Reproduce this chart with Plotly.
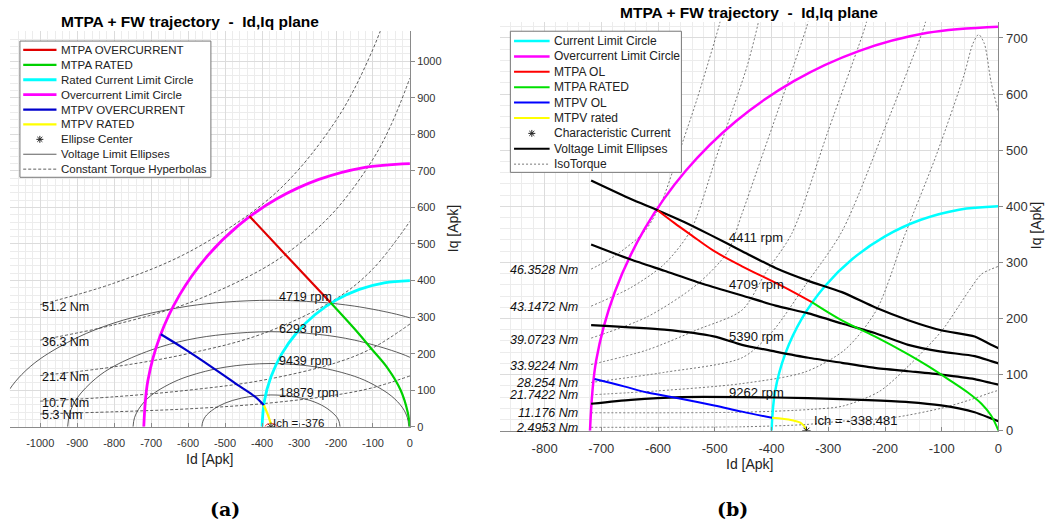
import plotly.graph_objects as go

# ====================== DATA ======================
# Current-limit circles (shared by both panels)
OC_CIRCLE_ID = [-720, -709.1, -676.6, -623.5, -551.6, -462.8, -360.0, -246.3, -125.0, 0]
OC_CIRCLE_IQ = [0, 125.0, 246.3, 360.0, 462.8, 551.6, 623.5, 676.6, 709.1, 720]
RATED_CIRCLE_ID = [-400, -393.9, -375.9, -346.4, -306.4, -257.1, -200, -136.8, -69.5, 0]
RATED_CIRCLE_IQ = [0, 69.5, 136.8, 200, 257.1, 306.4, 346.4, 375.9, 393.9, 400]

# ---------- panel (a) ----------
A_MTPA_RATED_ID = [0, -6, -25, -60, -103, -150, -215]
A_MTPA_RATED_IQ = [0, 40, 100, 160, 212, 268, 340]
A_MTPA_OC_ID = [-215, -325, -434]
A_MTPA_OC_IQ = [340, 458, 576]
A_MTPV_OC_ID = [-674, -610, -534, -462, -420, -395]
A_MTPV_OC_IQ = [253, 213, 162, 112, 83, 59]
A_MTPV_RATED_ID = [-395, -384, -376]
A_MTPV_RATED_IQ = [59, 32, 8]
A_CENTER_ID = [-376]
A_CENTER_IQ = [0]
A_SMALL_ID = [-392, -388, -376, -364, -360]
A_SMALL_IQ = [0, 6, 9, 6, 0]

A_ELL_4719_ID = [-1116, -1110, -1100, -1082, -1050, -1000, -900, -800, -700, -600, -500, -376, -250, -150, -50, 0, 50]
A_ELL_4719_IQ = [0, 44, 72, 104, 143, 186, 244, 284, 311, 330, 341, 346, 341, 330, 311, 298, 283]
A_ELL_6293_ID = [-926, -920, -900, -850, -800, -700, -600, -500, -376, -250, -150, -50, 0, 50]
A_ELL_6293_IQ = [0, 38, 79, 132, 166, 210, 238, 253, 260, 253, 237, 209, 190, 164]
A_ELL_9439_ID = [-749, -745, -730, -700, -650, -600, -500, -376, -250, -150, -100, -50, -20, -7, -3]
A_ELL_9439_IQ = [0, 25, 54, 86, 117, 138, 163, 173, 163, 138, 116, 84, 52, 25, 0]
A_ELL_18879_ID = [-563, -560, -550, -520, -480, -430, -376, -320, -270, -230, -200, -192, -189]
A_ELL_18879_IQ = [0, 15, 32, 55, 72, 83, 87, 83, 72, 54, 29, 15, 0]
A_SPEED_LABELS = ["4719 rpm", "6293 rpm", "9439 rpm", "18879 rpm"]
A_SPEED_LABEL_IQ = [354, 267, 181, 92]

A_HYP_51_ID = [-1000, -800, -600, -400, -300, -200, -150, -100, -80, -70]
A_HYP_51_IQ = [334, 393, 477, 608, 705, 838, 925, 1033, 1083, 1110]
A_HYP_36_ID = [-1000, -800, -600, -400, -300, -200, -100, -50, 0]
A_HYP_36_IQ = [237, 279, 338, 431, 500, 594, 732, 828, 954]
A_HYP_21_ID = [-1000, -800, -600, -400, -200, -100, 0]
A_HYP_21_IQ = [140, 164, 200, 254, 350, 432, 562]
A_HYP_10_ID = [-1000, -800, -600, -400, -200, -100, 0]
A_HYP_10_IQ = [70, 82, 100, 127, 175, 216, 281]
A_HYP_5_ID = [-1000, -800, -600, -400, -200, -100, 0]
A_HYP_5_IQ = [35, 41, 49, 63, 87, 107, 139]
A_TORQUE_LABELS = ["51.2 Nm", "36.3 Nm", "21.4 Nm", "10.7 Nm", "5.3 Nm"]
A_TORQUE_LABEL_IQ = [328, 232, 135, 65, 31]
A_ICH_LABEL = "Ich = -376"

A_XTICKS = [-1000, -900, -800, -700, -600, -500, -400, -300, -200, -100, 0]
A_XTICKTEXT = ["-1000", "-900", "-800", "-700", "-600", "-500", "-400", "-300", "-200", "-100", "0"]
A_YTICKS = [0, 100, 200, 300, 400, 500, 600, 700, 800, 900, 1000]

A_LEGEND = ["MTPA OVERCURRENT", "MTPA RATED", "Rated Current Limit Circle", "Overcurrent Limit Circle",
            "MTPV OVERCURRENT", "MTPV RATED", "Ellipse Center", "Voltage Limit Ellipses",
            "Constant Torque Hyperbolas"]

# ---------- panel (b) ----------
B_MTPA_OL_ID = [-601, -571, -542, -501, -452, -382, -329]
B_MTPA_OL_IQ = [393, 370, 349, 320, 293, 258, 229]
B_MTPA_RATED_ID = [-329, -277, -218, -159, -124, -89, -54, -30, -13, 0]
B_MTPA_RATED_IQ = [229, 197, 168, 136, 115, 92, 68, 48, 27, 0]
B_MTPV_OL_ID = [-712, -660, -619, -560, -501, -452, -399]
B_MTPV_OL_IQ = [92, 79, 68, 57, 45, 34, 23]
B_MTPV_RATED_ID = [-399, -364, -347, -338]
B_MTPV_RATED_IQ = [23, 18.6, 12.8, 1]
B_ICH_ID = [-338.481]
B_ICH_IQ = [0]
B_ICH_LABEL = "Ich = -338.481"

B_ELL_4411_ID = [-718, -648, -601, -554, -508, -452, -393, -335, -276, -218, -159, -101, -42, -13, 0]
B_ELL_4411_IQ = [446, 413, 393, 372, 349, 320, 290, 267, 247, 220, 197, 179, 168, 153, 147]
B_ELL_4709_ID = [-718, -648, -589, -519, -452, -393, -335, -276, -218, -159, -101, -42, -13, 0]
B_ELL_4709_IQ = [332, 305, 285, 261, 241, 223, 209, 191, 174, 153, 141, 133, 124, 120]
B_ELL_5390_ID = [-718, -589, -502, -452, -393, -335, -276, -218, -159, -101, -42, -13, 0]
B_ELL_5390_IQ = [188, 180, 168, 153, 141, 130, 121, 112, 106, 100, 92, 85, 82]
B_ELL_9262_ID = [-718, -648, -560, -452, -335, -218, -159, -101, -42, -13, 0]
B_ELL_9262_IQ = [48, 55, 60, 60, 58, 54, 51, 45, 33, 22, 17]
B_SPEED_LABELS = ["4411 rpm", "4709 rpm", "5390 rpm", "9262 rpm"]
B_SPEED_LABEL_IQ = [345, 260, 168, 68]

B_T46_ID = [-718, -677, -624, -595, -566, -531, -493, -488]
B_T46_IQ = [288, 311, 355, 405, 487, 592, 720, 740]
B_T43_ID = [-718, -648, -589, -542, -500, -470, -443, -425, -421]
B_T43_IQ = [222, 255, 297, 358, 480, 568, 650, 720, 740]
B_T39_ID = [-718, -619, -531, -478, -452, -420, -382, -338, -333]
B_T39_IQ = [165, 203, 261, 318, 387, 480, 590, 720, 740]
B_T33_ID = [-718, -619, -531, -452, -410, -364, -300, -235, -230]
B_T33_IQ = [118, 144, 180, 215, 282, 352, 535, 720, 740]
B_T28_ID = [-718, -589, -452, -400, -340, -276, -200, -131, -126]
B_T28_IQ = [86, 104, 130, 175, 260, 355, 540, 720, 740]
B_T21_ID = [-718, -600, -452, -340, -270, -215, -165, -110, -61, -45, -35, -25, -13, 0]
B_T21_IQ = [64, 71, 84, 105, 145, 215, 349, 490, 633, 690, 706, 690, 621, 568]
B_T11_ID = [-718, -450, -330, -274, -210, -159, -100, -55, -30, -15, 0]
B_T11_IQ = [32, 33, 38, 44, 70, 115, 178, 245, 279, 287, 293]
B_T2_ID = [-718, -450, -340, -276, -188, -101, -50, -13, 0]
B_T2_IQ = [6, 7, 11, 17, 23, 40, 55, 68, 72]
B_TORQUE_LABELS = ["46.3528 Nm", "43.1472 Nm", "39.0723 Nm", "33.9224 Nm",
                   "28.254 Nm", "21.7422 Nm", "11.176 Nm", "2.4953 Nm"]
B_TORQUE_LABEL_IQ = [286, 220, 162, 115, 85, 63, 32, 5]

B_XTICKS = [-800, -700, -600, -500, -400, -300, -200, -100, 0]
B_XTICKTEXT = ["-800", "-700", "-600", "-500", "-400", "-300", "-200", "-100", "0"]
B_YTICKS = [0, 100, 200, 300, 400, 500, 600, 700]

B_LEGEND = ["Current Limit Circle", "Overcurrent Limit Circle", "MTPA OL", "MTPA RATED", "MTPV OL",
            "MTPV rated", "Characteristic Current", "Voltage Limit Ellipses", "IsoTorque"]

TITLE = "MTPA + FW trajectory  -  Id,Iq plane"

# ====================== FIGURE ======================
W, H = 1049, 530
FONT = "Liberation Sans, Arial, Helvetica, sans-serif"
RED, GREEN, CYAN, MAG, BLUE, YEL = "#FF0000", "#00E000", "#00FFFF", "#FF00FF", "#0000FF", "#FFFF00"
A_RED, A_GREEN, A_BLUE = "#E00000", "#00D000", "#0000CC"
THIN = "#333333"
ISO = "#555555"
DASH_A = "3px,2px"
DOT_B = "2px,2px"

fig = go.Figure()


def line(x, y, panel, name, color, width, dash="solid", smooth=1.0):
    xa, ya = ("x", "y") if panel == "a" else ("x2", "y2")
    fig.add_trace(go.Scatter(
        x=x, y=y, mode="lines", name=name, xaxis=xa, yaxis=ya, showlegend=False,
        line=dict(color=color, width=width, dash=dash, shape="spline", smoothing=smooth),
        hoverinfo="skip"))


def star(x, y, panel, name):
    xa, ya = ("x", "y") if panel == "a" else ("x2", "y2")
    fig.add_trace(go.Scatter(
        x=x, y=y, mode="markers", name=name, xaxis=xa, yaxis=ya, showlegend=False,
        marker=dict(symbol="asterisk-open", size=7, color="#222", line=dict(color="#222", width=1)),
        hoverinfo="skip"))


# ---- panel (a) ----
for hx, hy in [(A_HYP_51_ID, A_HYP_51_IQ), (A_HYP_36_ID, A_HYP_36_IQ), (A_HYP_21_ID, A_HYP_21_IQ),
               (A_HYP_10_ID, A_HYP_10_IQ), (A_HYP_5_ID, A_HYP_5_IQ)]:
    line(hx, hy, "a", "Constant Torque Hyperbolas", THIN, 0.8, DASH_A)
for ex, ey in [(A_ELL_4719_ID, A_ELL_4719_IQ), (A_ELL_6293_ID, A_ELL_6293_IQ),
               (A_ELL_9439_ID, A_ELL_9439_IQ), (A_ELL_18879_ID, A_ELL_18879_IQ)]:
    line(ex, ey, "a", "Voltage Limit Ellipses", THIN, 0.8)
line(A_SMALL_ID, A_SMALL_IQ, "a", "small ellipse", RED, 0.8)
line(RATED_CIRCLE_ID, RATED_CIRCLE_IQ, "a", "Rated Current Limit Circle", CYAN, 2.8)
line(OC_CIRCLE_ID, OC_CIRCLE_IQ, "a", "Overcurrent Limit Circle", MAG, 2.8)
line(A_MTPA_OC_ID, A_MTPA_OC_IQ, "a", "MTPA OVERCURRENT", A_RED, 2.2)
line(A_MTPA_RATED_ID, A_MTPA_RATED_IQ, "a", "MTPA RATED", A_GREEN, 2.2)
line(A_MTPV_OC_ID, A_MTPV_OC_IQ, "a", "MTPV OVERCURRENT", A_BLUE, 2.2)
line(A_MTPV_RATED_ID, A_MTPV_RATED_IQ, "a", "MTPV RATED", YEL, 2.2)
star(A_CENTER_ID, A_CENTER_IQ, "a", "Ellipse Center")

# ---- panel (b) ----
for tx, ty in [(B_T46_ID, B_T46_IQ), (B_T43_ID, B_T43_IQ), (B_T39_ID, B_T39_IQ), (B_T33_ID, B_T33_IQ),
               (B_T28_ID, B_T28_IQ), (B_T21_ID, B_T21_IQ), (B_T11_ID, B_T11_IQ), (B_T2_ID, B_T2_IQ)]:
    line(tx, ty, "b", "IsoTorque", ISO, 0.8, DOT_B, smooth=0.8)
line(RATED_CIRCLE_ID, RATED_CIRCLE_IQ, "b", "Current Limit Circle", CYAN, 2.5)
line(OC_CIRCLE_ID, OC_CIRCLE_IQ, "b", "Overcurrent Limit Circle", MAG, 2.5)
for ex, ey in [(B_ELL_4411_ID, B_ELL_4411_IQ), (B_ELL_4709_ID, B_ELL_4709_IQ),
               (B_ELL_5390_ID, B_ELL_5390_IQ), (B_ELL_9262_ID, B_ELL_9262_IQ)]:
    line(ex, ey, "b", "Voltage Limit Ellipses", "#000000", 2.2, smooth=0.6)
line(B_MTPA_OL_ID, B_MTPA_OL_IQ, "b", "MTPA OL", RED, 2.0)
line(B_MTPA_RATED_ID, B_MTPA_RATED_IQ, "b", "MTPA RATED", GREEN, 2.0)
line(B_MTPV_OL_ID, B_MTPV_OL_IQ, "b", "MTPV OL", BLUE, 2.0)
line(B_MTPV_RATED_ID, B_MTPV_RATED_IQ, "b", "MTPV rated", YEL, 2.0)
star(B_ICH_ID, B_ICH_IQ, "b", "Characteristic Current")

# ---- axes ----
AX_LINE = "#8a8a8a"
TICK_COL = "#333333"
GRID = "#dcdcdc"
MINOR = "#ececec"


def xaxis(domain, rng, vals, text, size, yref):
    return dict(domain=domain, range=rng, anchor=yref, tickmode="array", tickvals=vals, ticktext=text,
                showgrid=True, gridcolor=GRID, gridwidth=1, zeroline=False,
                minor=dict(tickmode="linear", tick0=0, dtick=20, showgrid=True, gridcolor=MINOR, gridwidth=1),
                showline=True, linecolor=AX_LINE, linewidth=1, ticks="inside", ticklen=4,
                ticklabelstandoff=6,
                tickcolor=AX_LINE, tickfont=dict(family=FONT, size=size, color=TICK_COL), fixedrange=True)


def yaxis(domain, rng, vals, size, xref):
    return dict(domain=domain, range=rng, anchor=xref, side="right", tickmode="array", tickvals=vals,
                showgrid=True, gridcolor=GRID, gridwidth=1, zeroline=False,
                minor=dict(tickmode="linear", tick0=0, dtick=20, showgrid=True, gridcolor=MINOR, gridwidth=1),
                showline=True, linecolor=AX_LINE, linewidth=1, ticks="outside", ticklen=4,
                tickcolor=AX_LINE, tickfont=dict(family=FONT, size=size, color=TICK_COL), fixedrange=True)


AX1 = (10, 411.5, 31.7, 433.3)   # left, right, top, bottom (px)
AX2 = (501.7, 1002.3, 22.0, 437.3)


def dom_x(a):
    return [a[0] / W, a[1] / W]


def dom_y(a):
    return [1 - a[3] / H, 1 - a[2] / H]


def px(x):
    return x / W


def py(y):
    return 1 - y / H


fig.update_layout(
    width=W, height=H, margin=dict(l=0, r=0, t=0, b=0),
    paper_bgcolor="white", plot_bgcolor="white",
    font=dict(family=FONT, color="#222"),
    showlegend=False,
    xaxis=xaxis(dom_x(AX1), [-1082, 0], A_XTICKS, A_XTICKTEXT, 11, "y"),
    yaxis=yaxis(dom_y(AX1), [0, 1082], A_YTICKS, 11, "x"),
    xaxis2=xaxis(dom_x(AX2), [-879, 0], B_XTICKS, B_XTICKTEXT, 13, "y2"),
    yaxis2=yaxis(dom_y(AX2), [0, 729], B_YTICKS, 13, "x2"),
)

ann = []
shapes = []

# ---------- legends (drawn as an inset box) ----------
A_LEG_STYLE = [("line", A_RED, 2.2, "solid"), ("line", A_GREEN, 2.2, "solid"), ("line", CYAN, 2.8, "solid"),
               ("line", MAG, 2.8, "solid"), ("line", A_BLUE, 2.2, "solid"), ("line", YEL, 2.2, "solid"),
               ("star", "#222", 1, "solid"), ("line", THIN, 0.8, "solid"), ("line", THIN, 0.8, DASH_A)]
B_LEG_STYLE = [("line", CYAN, 2.5, "solid"), ("line", MAG, 2.5, "solid"), ("line", RED, 2.0, "solid"),
               ("line", GREEN, 2.0, "solid"), ("line", BLUE, 2.0, "solid"), ("line", YEL, 2.0, "solid"),
               ("star", "#222", 1, "solid"), ("line", "#000", 2.2, "solid"), ("line", ISO, 0.8, DOT_B)]


def legend_box(box, labels, styles, row0, dy, sx0, sx1, tx, fsize):
    x0, x1, y0, y1 = box
    shapes.append(dict(type="rect", xref="paper", yref="paper", x0=px(x0), x1=px(x1), y0=py(y1), y1=py(y0),
                       fillcolor="white", line=dict(color="#777", width=1), layer="above"))
    for i, (lab, st) in enumerate(zip(labels, styles)):
        cy = row0 + i * dy
        kind, col, wdt, dsh = st
        if kind == "line":
            shapes.append(dict(type="line", xref="paper", yref="paper", x0=px(sx0), x1=px(sx1),
                               y0=py(cy), y1=py(cy), line=dict(color=col, width=wdt, dash=dsh), layer="above"))
        else:
            cx = (sx0 + sx1) / 2
            for ddx, ddy in [(3.5, 0), (0, 3.5), (2.5, 2.5), (2.5, -2.5)]:
                shapes.append(dict(type="line", xref="paper", yref="paper", x0=px(cx - ddx), x1=px(cx + ddx),
                                   y0=py(cy - ddy), y1=py(cy + ddy), line=dict(color=col, width=wdt),
                                   layer="above"))
        ann.append(dict(text=lab, x=px(tx), y=py(cy), xref="paper", yref="paper", showarrow=False,
                        xanchor="left", yanchor="middle", font=dict(family=FONT, size=fsize, color="#222")))


legend_box((20, 211.7, 41.7, 180), A_LEGEND, A_LEG_STYLE, 50.7, 15.13, 23.3, 56.7, 59.5, 11.5)
legend_box((512.3, 684, 31.7, 175), B_LEGEND, B_LEG_STYLE, 41.7, 15.62, 516, 551.7, 554, 12)

# titles
for cx, cy in [(191, 22), (752, 13)]:
    ann.append(dict(text="<b>" + TITLE + "</b>", x=px(cx), y=py(cy), xref="paper", yref="paper",
                    showarrow=False, font=dict(family=FONT, size=15.5, color="#000"),
                    xanchor="center", yanchor="middle"))
# axis titles
for cx, cy_x, cx_y, cy_y in [((AX1[0] + AX1[1]) / 2, 466, 455, (AX1[2] + AX1[3]) / 2),
                             ((AX2[0] + AX2[1]) / 2, 471, 1040, (AX2[2] + AX2[3]) / 2)]:
    ann.append(dict(text="Id [Apk]", x=px(cx), y=py(cy_x), xref="paper", yref="paper", showarrow=False,
                    font=dict(family=FONT, size=14, color="#222"), xanchor="center", yanchor="middle"))
    ann.append(dict(text="Iq [Apk]", x=px(cx_y), y=py(cy_y), xref="paper", yref="paper", showarrow=False,
                    textangle=-90, font=dict(family=FONT, size=14, color="#222"),
                    xanchor="center", yanchor="middle"))
# panel (a) labels
for t, yv in zip(A_SPEED_LABELS, A_SPEED_LABEL_IQ):
    ann.append(dict(text=t, x=-359, y=yv, xref="x", yref="y", showarrow=False, xanchor="left", yanchor="middle",
                    font=dict(family=FONT, size=12.5, color="#111")))
for t, yv in zip(A_TORQUE_LABELS, A_TORQUE_LABEL_IQ):
    ann.append(dict(text=t, x=-1001, y=yv, xref="x", yref="y", showarrow=False, xanchor="left", yanchor="middle",
                    font=dict(family=FONT, size=12.5, color="#111")))
ann.append(dict(text=A_ICH_LABEL, x=-377, y=9, xref="x", yref="y", showarrow=False, xanchor="left",
                yanchor="middle", font=dict(family=FONT, size=11.5, color="#111")))
# panel (b) labels
for t, yv in zip(B_SPEED_LABELS, B_SPEED_LABEL_IQ):
    ann.append(dict(text=t, x=-479, y=yv, xref="x2", yref="y2", showarrow=False, xanchor="left", yanchor="middle",
                    font=dict(family=FONT, size=13, color="#111")))
for t, yv in zip(B_TORQUE_LABELS, B_TORQUE_LABEL_IQ):
    ann.append(dict(text="<i>" + t + "</i>", x=-738, y=yv, xref="x2", yref="y2", showarrow=False,
                    xanchor="right", yanchor="middle", font=dict(family=FONT, size=12.5, color="#111")))
ann.append(dict(text=B_ICH_LABEL, x=-329, y=19, xref="x2", yref="y2", showarrow=False, xanchor="left",
                yanchor="middle", font=dict(family=FONT, size=13, color="#111")))
# sub-figure captions
for t, cx in [("(a)", 226), ("(b)", 735)]:
    ann.append(dict(text="<b>" + t + "</b>", x=px(cx), y=py(517), xref="paper", yref="paper", showarrow=False,
                    font=dict(family="DejaVu Serif, serif", size=19, color="#000"),
                    xanchor="center", yanchor="middle"))

fig.update_layout(annotations=ann, shapes=shapes)
fig.write_html("out.html")
